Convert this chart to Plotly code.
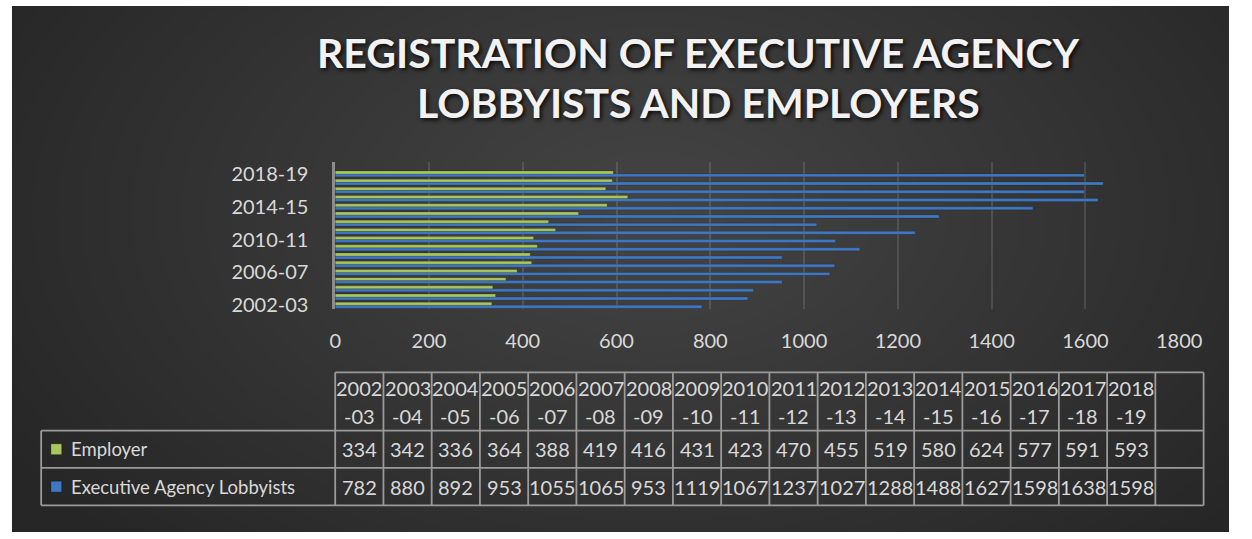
import plotly.graph_objects as go

periods = ["2002-03", "2003-04", "2004-05", "2005-06", "2006-07", "2007-08",
           "2008-09", "2009-10", "2010-11", "2011-12", "2012-13", "2013-14",
           "2014-15", "2015-16", "2016-17", "2017-18", "2018-19"]
employer = [334, 342, 336, 364, 388, 419, 416, 431, 423, 470, 455, 519,
            580, 624, 577, 591, 593]
lobbyists = [782, 880, 892, 953, 1055, 1065, 953, 1119, 1067, 1237, 1027,
             1288, 1488, 1627, 1598, 1638, 1598]
series_names = ["Employer", "Executive Agency Lobbyists"]
x_ticks = [0, 200, 400, 600, 800, 1000, 1200, 1400, 1600, 1800]

W, H = 1252, 539
FONT = "Lato, 'Open Sans', sans-serif"
TXT = "#d9d9d9"
GREEN = "#a8c65c"
BLUE = "#3f78c2"
GRIDLINE = "#9a9a9a"


def fx(px):
    return px / W


def fy(py):
    return 1 - py / H


fig = go.Figure()

# lobbyists first so employer sits on top inside each group
fig.add_trace(go.Bar(
    y=periods, x=lobbyists, orientation="h", name=series_names[1],
    marker=dict(color=BLUE, line=dict(color="rgba(20,20,20,0.6)", width=0.3)),
))
fig.add_trace(go.Bar(
    y=periods, x=employer, orientation="h", name=series_names[0],
    marker=dict(color=GREEN, line=dict(color="rgba(20,20,20,0.6)", width=0.3)),
))

shapes = []
# white frame strip on top/left, then dark card
shapes.append(dict(type="rect", xref="paper", yref="paper", layer="below",
                   x0=fx(6), x1=fx(W), y0=fy(5), y1=fy(H),
                   fillcolor="#262626", line=dict(width=0)))
# fake radial gradient: stacked translucent ellipses
n = 30
cx, cy = 660, 215
rx, ry = 760, 470
for k in range(n, 0, -1):
    f = k / n
    shapes.append(dict(type="circle", xref="paper", yref="paper", layer="below",
                       x0=fx(cx - rx * f), x1=fx(cx + rx * f),
                       y0=fy(cy + ry * f), y1=fy(cy - ry * f),
                       fillcolor="rgba(255,255,255,0.0078)", line=dict(width=0)))
# re-paint the white strips that the ellipses may have touched
shapes.append(dict(type="rect", xref="paper", yref="paper", layer="below",
                   x0=0, x1=fx(W), y0=fy(5), y1=1, fillcolor="white", line=dict(width=0)))
shapes.append(dict(type="rect", xref="paper", yref="paper", layer="below",
                   x0=0, x1=fx(6), y0=0, y1=1, fillcolor="white", line=dict(width=0)))

# data table under the chart
t_left, t_x0, t_x1 = 36, 337, 1226
t_top, r1, r2, t_bot = 377, 436, 474, 512
ncols = len(periods) + 1
cw = (t_x1 - t_x0) / ncols


def hline(x0, x1, y):
    shapes.append(dict(type="line", xref="paper", yref="paper", x0=fx(x0), x1=fx(x1),
                       y0=fy(y), y1=fy(y), line=dict(color=GRIDLINE, width=1.8)))


def vline(x, y0, y1):
    shapes.append(dict(type="line", xref="paper", yref="paper", x0=fx(x), x1=fx(x),
                       y0=fy(y0), y1=fy(y1), line=dict(color=GRIDLINE, width=1.8)))


hline(t_x0, t_x1, t_top)
for yy in (r1, r2, t_bot):
    hline(t_left, t_x1, yy)
vline(t_left, r1, t_bot)
for k in range(ncols + 1):
    vline(t_x0 + k * cw, t_top, t_bot)


def label(x, y, text, size=20, anchor="center"):
    return dict(x=fx(x), y=fy(y), xref="paper", yref="paper", text=text,
                showarrow=False, xanchor=anchor, yanchor="middle",
                font=dict(family=FONT, size=size, color=TXT))


annotations = []
for i, p in enumerate(periods):
    cx_ = t_x0 + (i + 0.5) * cw
    head = p.split("-")
    annotations.append(label(cx_, 393, head[0]))
    annotations.append(label(cx_, 421, "-" + head[1]))
    annotations.append(label(cx_, (r1 + r2) / 2, str(employer[i])))
    annotations.append(label(cx_, (r2 + t_bot) / 2, str(lobbyists[i])))

for name, col, (ya, yb) in ((series_names[0], GREEN, (r1, r2)),
                            (series_names[1], BLUE, (r2, t_bot))):
    ym = (ya + yb) / 2
    shapes.append(dict(type="rect", xref="paper", yref="paper",
                       x0=fx(46), x1=fx(57), y0=fy(ym + 5.5), y1=fy(ym - 5.5),
                       fillcolor=col, line=dict(color="rgba(0,0,0,0.5)", width=0.5)))
    annotations.append(label(64, ym, name, size=18.5, anchor="left"))

# title
for txt, yy in (("REGISTRATION OF EXECUTIVE AGENCY", 52), ("LOBBYISTS AND EMPLOYERS", 103)):
    t = label(709, yy, txt, size=41)
    t["font"].update(color="#f2f2f2", weight="bold", shadow="2px 2px 4px rgba(0,0,0,0.85)")
    annotations.append(t)

fig.update_layout(
    width=W, height=H,
    margin=dict(l=0, r=0, t=0, b=0),
    paper_bgcolor="white",
    plot_bgcolor="rgba(0,0,0,0)",
    barmode="group",
    bargap=0.28,
    bargroupgap=0,
    showlegend=False,
    font=dict(family=FONT, color=TXT),
    shapes=shapes,
    annotations=annotations,
    xaxis=dict(
        domain=[fx(337), fx(1201)],
        range=[0, 1800],
        tickvals=x_ticks,
        showgrid=True,
        gridcolor="rgba(255,255,255,0.12)",
        gridwidth=1.5,
        zeroline=False,
        showline=False,
        ticks="outside", ticklen=14, tickcolor="rgba(0,0,0,0)",
        tickfont=dict(family=FONT, size=20, color=TXT),
    ),
    yaxis=dict(
        domain=[fy(313), fy(163)],
        type="category",
        categoryorder="array", categoryarray=periods,
        range=[-0.5, len(periods) + 0.5],
        tickvals=periods[::4],
        showgrid=False,
        showline=True, linecolor="#8c8c8c", linewidth=2.5,
        ticks="outside", ticklen=20, tickcolor="rgba(0,0,0,0)",
        tickfont=dict(family=FONT, size=20, color=TXT),
    ),
)

# drop the default page margin so the figure sits at the window origin
fit_page = (
    "document.body.style.margin='0';"
    "document.body.style.overflow='hidden';"
    "document.body.style.background='#262626';"
)
fig.write_html("out.html", config={"displayModeBar": False}, post_script=fit_page)
